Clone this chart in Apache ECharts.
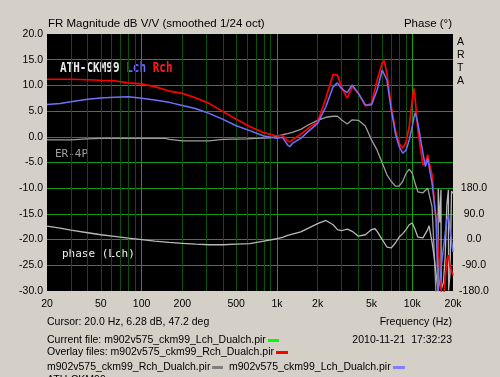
<!DOCTYPE html>
<html>
<head>
<meta charset="utf-8">
<script src="https://cdn.jsdelivr.net/npm/echarts@6/dist/echarts.min.js"></script>
<style>
  html, body { margin: 0; padding: 0; background: #d4d0c8; }
  #chart { width: 500px; height: 377px; }
</style>
</head>
<body>
<div id="chart"></div>
<script>
// ATH-CKM99 magnitude, both channels share the frequency points (Hz)
const freqs = [20, 25, 30, 40, 50, 63, 80, 100, 125, 160, 200, 250, 315, 400, 500, 630, 800, 1000, 1100, 1200,
  1250, 1300, 1500, 1700, 2000, 2300, 2600, 2800, 3000, 3300, 3600, 4000, 4500, 4600, 5000, 5500, 6000, 6200, 6500,
  7000, 7500, 8000, 8500, 9000, 9500, 10000, 10300, 10500, 11000, 12000, 12500, 13000, 13300, 14000, 15000, 15500,
  16000, 16500, 17000, 18000, 18500, 19000, 20000]
const rchDb = [11.2, 11.2, 11.2, 11.1, 11.0, 10.9, 10.5, 10.3, 9.75, 8.9, 8.45, 7.6, 6.5, 4.9, 3.4, 2.0, 0.8, 0.15, 0.3, -0.8,
  -1.0, -0.6, 0.5, 1.65, 2.9, 7.5, 12.15, 12.0, 9.75, 7.5, 9.75, 8.45, 6.0, 5.85, 6.5, 11.0, 14.4, 14.8, 12.3,
  5.85, 1.3, -1.3, -2.2, -1.0, 2.0, 7.2, 9.4, 7.5, 1.3, -5.5, -5.1, -3.5, -3.2, -7.4, -16.2, -21,
  -26, -31, -32, -24, -23, -25, -27]
const lchDb = [6.28, 6.5, 6.8, 7.3, 7.55, 7.7, 7.8, 7.5, 7.15, 6.7, 6.1, 5.5, 4.55, 3.4, 2.15, 1.2, 0.15, -0.3, -0.1, -1.6,
  -1.9, -1.3, -0.3, 1.0, 2.6, 5.85, 9.75, 10.5, 9.4, 8.6, 10.1, 8.45, 6.2, 6.0, 6.2, 9.1, 13.0, 13.3, 11.0,
  5.2, 0.7, -1.9, -3.2, -2.6, -0.6, 2.0, 3.8, 4.7, 2.6, -3.2, -5.8, -4.2, -4.0, -9.0, -16.0, -30,
  -28, -24.5, -21.6, -16.2, -15.3, -18, -22.4]

// ER-4P reference magnitude
const er4pFreqs = [20, 30, 40, 50, 100, 150, 160, 200, 315, 400, 600, 700, 900, 1000, 1100, 1200, 1300, 1500, 1700, 2000,
  2300, 2600, 2800, 3000, 3300, 3600, 4000, 4500, 5000, 5500, 6000, 6500, 7000, 7500, 8000, 8500, 9000, 9500,
  10000, 10500, 11000, 12000, 13000, 13300, 14000, 14500, 15000, 16000, 17000, 18000, 19000, 20000]
const er4pDb = [-0.6, -0.6, -0.4, -0.3, -0.3, -0.3, -0.5, -0.8, -0.8, -0.5, -0.4, -0.3, -0.2, 0.1, 0.4, 0.6, 0.85, 1.45, 2.3, 3.2,
  3.8, 4.0, 4.0, 3.3, 2.5, 3.3, 3.2, 2.1, -0.6, -2.6, -5.1, -7.4, -8.7, -9.6, -9.6, -8.7, -7.1, -6.3,
  -7.1, -9.1, -10.7, -10.9, -10.0, -9.7, -13.6, -22, -31, -34, -33, -34, -33, -34]

// Lch phase in degrees (right axis)
const phaseFreqs = [20, 25, 30, 40, 50, 63, 80, 100, 125, 160, 200, 250, 315, 400, 500, 630, 800, 1000, 1100, 1200,
  1500, 2000, 2300, 2600, 2800, 3000, 3300, 3600, 4000, 4500, 5000, 5300, 5500, 6000, 6500, 7000, 7500, 8000,
  8500, 9000, 9500, 10000, 10500, 11000, 12000, 13000, 13300, 14000, 14500, 15000, 15500, 15550, 16000, 16300,
  16350, 17000, 17500, 18000, 18500, 18550, 19000, 19500, 20000]
const phaseLch = [47, 40, 33, 24, 17, 11, 5, 0, -5, -10, -13, -16, -18, -18, -16, -14, -5, 3, 8, 15,
  27, 56, 67, 52, 35, 31, 37, 29, 12, 17, 35, 38, 29, 0, -26, -29, -12, 9,
  21, 35, 52, 58, 35, 9, 6, 35, 49, -10, -60, -120, -178, 178, 60, 175,
  -175, -150, -60, 120, 175, -178, -120, 170, 163]

const freqLabels = [20, 50, 100, 200, 500, 1000, 2000, 5000, 10000, 20000]
const minorGrid = [30, 40, 50, 60, 70, 80, 90, 200, 300, 400, 500, 600, 700, 800, 900,
  2000, 3000, 4000, 5000, 6000, 7000, 8000, 9000]
const majorGrid = [100, 1000, 10000]

const zip = (xs, ys) => xs.map((x, i) => [x, ys[i]])
const uiFont = '10.5px "Liberation Sans", Arial, sans-serif'
const monoFont = '11px "DejaVu Sans Mono", monospace'

const chart = echarts.init(document.getElementById('chart'))

const lineSeries = (name, data, color, width, yAxisIndex) => ({
  name,
  type: 'line',
  data,
  yAxisIndex,
  showSymbol: false,
  symbol: 'none',
  silent: true,
  lineStyle: { color, width },
})

chart.setOption({
  animation: false,
  backgroundColor: '#d4d0c8',
  grid: { left: 47, right: 47, top: 34, bottom: 86, show: true, backgroundColor: '#000', borderWidth: 0 },
  xAxis: [
    {
      type: 'log',
      min: 20,
      max: 20000,
      axisLine: { show: false },
      axisTick: { show: false, customValues: minorGrid },
      axisLabel: {
        customValues: freqLabels,
        margin: 8,
        color: '#000',
        fontSize: 10.5,
        fontFamily: '"Liberation Sans", Arial, sans-serif',
        formatter: (v) => (v >= 1000 ? v / 1000 + 'k' : String(v)),
      },
      splitLine: { show: true, lineStyle: { color: '#0a520a', width: 1 } },
    },
    {
      type: 'log',
      min: 20,
      max: 20000,
      axisLine: { show: false },
      axisTick: { show: false, customValues: majorGrid },
      axisLabel: { show: false },
      splitLine: { show: true, lineStyle: { color: '#12a012', width: 1 } },
    },
  ],
  yAxis: [
    {
      type: 'value',
      min: -30,
      max: 20,
      interval: 5,
      axisLine: { show: false },
      axisTick: { show: false },
      axisLabel: {
        margin: 4,
        color: '#000',
        fontSize: 10.5,
        fontFamily: '"Liberation Sans", Arial, sans-serif',
        formatter: (v) => v.toFixed(1),
      },
      splitLine: { show: true, showMinLine: false, showMaxLine: false, lineStyle: { color: '#129a12', width: 1 } },
    },
    {
      type: 'value',
      position: 'right',
      min: -180,
      max: 720,
      interval: 90,
      axisLine: { show: false },
      axisTick: { show: false },
      axisLabel: {
        margin: 21,
        align: 'center',
        color: '#000',
        fontSize: 10.5,
        fontFamily: '"Liberation Sans", Arial, sans-serif',
        formatter: (v) => (v <= 180 ? v.toFixed(1) : ''),
      },
      splitLine: { show: false },
    },
  ],
  series: [
    lineSeries('ER-4P', zip(er4pFreqs, er4pDb), '#9c9c9c', 1.3, 0),
    lineSeries('phase (Lch)', zip(phaseFreqs, phaseLch), '#b8b8b8', 1.3, 1),
    lineSeries('Rch', zip(freqs, rchDb), '#ff0000', 1.7, 0),
    lineSeries('Lch', zip(freqs, lchDb), '#7070ff', 1.5, 0),
  ],
  graphic: [
    { type: 'text', left: 48, top: 18, style: { text: 'FR Magnitude dB V/V (smoothed 1/24 oct)', font: '11.5px "Liberation Sans", Arial, sans-serif', fill: '#000' } },
    { type: 'text', right: 48, top: 18, style: { text: 'Phase (°)', font: '11.5px "Liberation Sans", Arial, sans-serif', fill: '#000' } },
    { type: 'text', left: 457, top: 36, style: { text: 'A\nR\nT\nA', font: uiFont, fill: '#000', lineHeight: 13, align: 'center' } },
    {
      type: 'text', left: 60, top: 62, scaleY: 1.2,
      style: {
        text: '{w|ATH-CKM99} {b|Lch} {r|Rch}',
        font: 'bold ' + monoFont,
        rich: {
          w: { fill: '#e8e8e8', font: 'bold ' + monoFont },
          b: { fill: '#6a6aff', font: 'bold ' + monoFont },
          r: { fill: '#ff1a1a', font: 'bold ' + monoFont },
        },
      },
    },
    { type: 'text', left: 55, top: 149, style: { text: 'ER-4P', font: monoFont, fill: '#a0a0a0' } },
    { type: 'text', left: 62, top: 249, style: { text: 'phase (Lch)', font: monoFont, fill: '#f0f0f0' } },
    { type: 'text', left: 47, top: 317, style: { text: 'Cursor: 20.0 Hz, 6.28 dB, 47.2 deg', font: uiFont, fill: '#000' } },
    { type: 'text', right: 48, top: 317, style: { text: 'Frequency (Hz)', font: uiFont, fill: '#000' } },
    { type: 'text', left: 47, top: 335, style: { text: 'Current file: m902v575_ckm99_Lch_Dualch.pir', font: uiFont, fill: '#000' } },
    { type: 'rect', left: 268, top: 339, shape: { width: 11, height: 3 }, style: { fill: '#00ff00' } },
    { type: 'text', right: 48, top: 335, style: { text: '2010-11-21  17:32:23', font: uiFont, fill: '#000' } },
    { type: 'text', left: 47, top: 347, style: { text: 'Overlay files: m902v575_ckm99_Rch_Dualch.pir', font: uiFont, fill: '#000' } },
    { type: 'rect', left: 276, top: 351, shape: { width: 12, height: 3 }, style: { fill: '#ff0000' } },
    { type: 'text', left: 47, top: 362, style: { text: 'm902v575_ckm99_Rch_Dualch.pir', font: uiFont, fill: '#000' } },
    { type: 'rect', left: 212, top: 366, shape: { width: 11, height: 3 }, style: { fill: '#808080' } },
    { type: 'text', left: 229, top: 362, style: { text: 'm902v575_ckm99_Lch_Dualch.pir', font: uiFont, fill: '#000' } },
    { type: 'rect', left: 393, top: 366, shape: { width: 12, height: 3 }, style: { fill: '#8080ff' } },
    { type: 'text', left: 47, top: 375, style: { text: 'ATH-CKM99', font: uiFont, fill: '#000' } },
  ],
})
</script>
</body>
</html>
